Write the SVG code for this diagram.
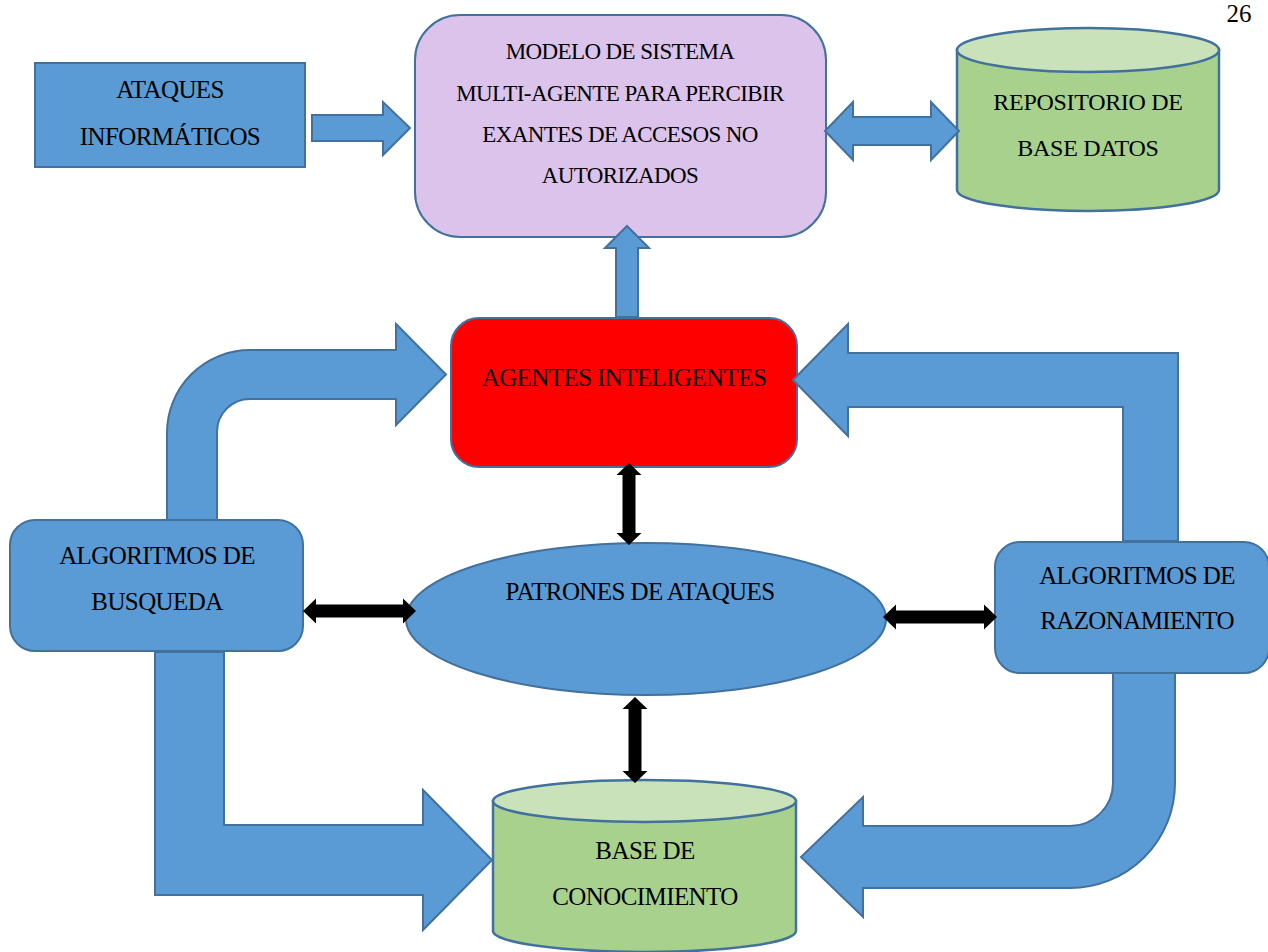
<svg xmlns="http://www.w3.org/2000/svg" width="1268" height="952" viewBox="0 0 1268 952" font-family="'Liberation Serif', 'Times New Roman', serif">
<style>
.blue{fill:#5B9BD5;stroke:#41719C;stroke-width:2}
.purple{fill:#DCC3EC;stroke:#41719C;stroke-width:2}
.red{fill:#FF0000;stroke:#41719C;stroke-width:2}
.green{fill:#A9D18E;stroke:#41719C;stroke-width:2.5}
.greentop{fill:#C9E2BA;stroke:#41719C;stroke-width:2.5}
.blk{fill:#000000;stroke:none}
.t{font-family:'Liberation Serif','Times New Roman',serif;fill:#000;text-anchor:middle;font-size:25px;letter-spacing:-0.6px}
.t23{font-size:23px}
.t24{font-size:24px;letter-spacing:-0.3px}
</style>
<rect width="1268" height="952" fill="#FFFFFF"/>
<g id="page-number"><text class="t" x="1239" y="22" font-size="26" style="letter-spacing:0">26</text></g>

<g id="ataques">
<rect class="blue" x="35" y="63" width="270" height="104"/>
<text class="t" x="170" y="98">ATAQUES</text>
<text class="t" x="170" y="145">INFORMÁTICOS</text>
</g>

<g id="modelo">
<rect class="purple" x="415" y="15" width="411" height="222" rx="45" ry="45"/>
<text class="t t23" x="620" y="59">MODELO DE SISTEMA</text>
<text class="t t23" x="620" y="101">MULTI-AGENTE PARA PERCIBIR</text>
<text class="t t23" x="620" y="142">EXANTES DE ACCESOS NO</text>
<text class="t t23" x="620" y="183">AUTORIZADOS</text>
</g>

<g id="repositorio">
<path class="green" d="M957,50 L957,190 A131,21 0 0 0 1219,190 L1219,50 Z"/>
<ellipse class="greentop" cx="1088" cy="50" rx="131" ry="22"/>
<text class="t t24" x="1088" y="110">REPOSITORIO DE</text>
<text class="t t24" x="1088" y="156">BASE DATOS</text>
</g>

<g id="agentes">
<rect class="red" x="451" y="318" width="346" height="149" rx="28" ry="28"/>
<text class="t" x="624" y="386">AGENTES INTELIGENTES</text>
</g>

<g id="busqueda">
<rect class="blue" x="10" y="520" width="293" height="131" rx="25" ry="25"/>
<text class="t" x="157" y="564">ALGORITMOS DE</text>
<text class="t" x="157" y="610">BUSQUEDA</text>
</g>

<g id="patrones">
<ellipse class="blue" cx="646" cy="619" rx="240" ry="76"/>
<text class="t" x="640" y="600">PATRONES DE ATAQUES</text>
</g>

<g id="razonamiento">
<rect class="blue" x="995" y="542" width="274" height="131" rx="25" ry="25"/>
<text class="t" x="1137" y="584">ALGORITMOS DE</text>
<text class="t" x="1137" y="629">RAZONAMIENTO</text>
</g>

<g id="conocimiento">
<path class="green" d="M493,801 L493,931 A151.5,21 0 0 0 796,931 L796,801 Z"/>
<ellipse class="greentop" cx="644.5" cy="801" rx="151.5" ry="21"/>
<text class="t" x="645" y="859">BASE DE</text>
<text class="t" x="645" y="905">CONOCIMIENTO</text>
</g>

<g id="connectors">
<path class="blue" d="M312,115 L383,115 L383,102 L410,128 L383,155 L383,141 L312,141 Z"/>
<path class="blue" d="M825,131 L853,102 L853,117 L931,117 L931,102 L959,131 L931,160 L931,145 L853,145 L853,160 Z"/>
<path class="blue" d="M627,226 L649,248 L638,248 L638,317 L616,317 L616,248 L605,248 Z"/>
<path class="blue" d="M167,520 L167,433 A83,83 0 0 1 250,350 L396,350 L396,324 L446,374.5 L396,425 L396,399 L250,399 A33,33 0 0 0 217,432 L217,520 Z"/>
<path class="blue" d="M793,380 L848,324 L848,353 L1178,353 L1178,541 L1123,541 L1123,407 L848,407 L848,436 Z"/>
<path class="blue" d="M155,652 L224,652 L224,825 L423,825 L423,790 L492,860 L423,930 L423,895 L155,895 Z"/>
<path class="blue" d="M1113,673 L1175,673 L1175,783 A105,105 0 0 1 1070,888 L863,888 L863,917 L801,857 L863,797 L863,826 L1070,826 A43,43 0 0 0 1113,783 Z"/>
<path class="blk" d="M629,463 L641.5,475 L635.5,475 L635.5,533 L641.5,533 L629,545 L616.5,533 L622.5,533 L622.5,475 L616.5,475 Z"/>
<path class="blk" d="M635,697 L647.5,709 L641.5,709 L641.5,771 L647.5,771 L635,783 L622.5,771 L628.5,771 L628.5,709 L622.5,709 Z"/>
<path class="blk" d="M303,611 L316,598.5 L316,604.5 L403,604.5 L403,598.5 L416,611 L403,623.5 L403,617.5 L316,617.5 L316,623.5 Z"/>
<path class="blk" d="M883,617 L896,604.5 L896,610.5 L984,610.5 L984,604.5 L997,617 L984,629.5 L984,623.5 L896,623.5 L896,629.5 Z"/>
</g>
</svg>
